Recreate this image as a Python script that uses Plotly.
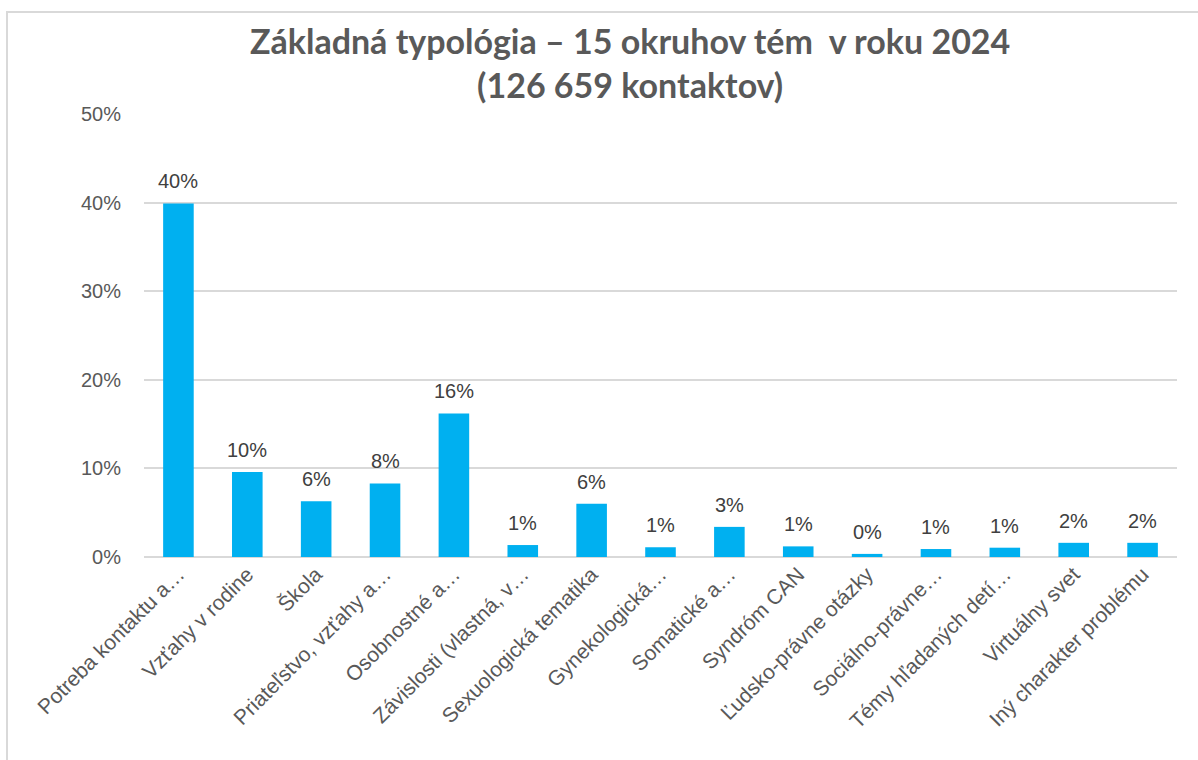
import plotly.graph_objects as go

categories = [
    "Potreba kontaktu a…",
    "Vzťahy v rodine",
    "Škola",
    "Priateľstvo, vzťahy a…",
    "Osobnostné a…",
    "Závislosti (vlastná, v…",
    "Sexuologická tematika",
    "Gynekologická…",
    "Somatické a…",
    "Syndróm CAN",
    "Ľudsko-právne otázky",
    "Sociálno-právne…",
    "Témy hľadaných detí…",
    "Virtuálny svet",
    "Iný charakter problému",
]
values = [39.9, 9.6, 6.3, 8.3, 16.2, 1.35, 6.0, 1.1, 3.4, 1.2, 0.35, 0.9, 1.05, 1.6, 1.6]
labels = ["40%", "10%", "6%", "8%", "16%", "1%", "6%", "1%", "3%", "1%", "0%", "1%", "1%", "2%", "2%"]
y_ticks = [0, 10, 20, 30, 40, 50]
y_tick_labels = ["0%", "10%", "20%", "30%", "40%", "50%"]

W, H = 1198, 760
L, R, T, B = 144, 21, 114, 203
pw, ph = W - L - R, H - T - B

fig = go.Figure(go.Bar(
    x=categories, y=values,
    marker=dict(color="#00B0F0", line=dict(width=0)),
    hoverinfo="x+y",
))

value_labels = [
    dict(x=c, y=v, text=t, xref="x", yref="y", showarrow=False,
         yanchor="bottom", yshift=9,
         font=dict(family="Liberation Sans, Arial", size=20, color="#404040"))
    for c, v, t in zip(categories, values, labels)
]

title_ann = dict(
    text="<b>Základná typológia – 15 okruhov tém  v roku 2024<br>(126 659 kontaktov)</b>",
    xref="paper", yref="paper",
    x=(630 - L) / pw, xanchor="center",
    y=1 + (T - 18) / ph, yanchor="top",
    showarrow=False, align="center",
    font=dict(family="Lato, Open Sans, sans-serif", size=34, color="#595959"),
)

fig.update_layout(
    width=W, height=H,
    margin=dict(l=L, r=R, t=T, b=B, autoexpand=False),
    paper_bgcolor="white", plot_bgcolor="white",
    bargap=0.556,
    showlegend=False,
    xaxis=dict(
        tickangle=-45, showgrid=False, showline=False, ticks="", automargin=False,
        tickfont=dict(family="Liberation Sans, Arial", size=21, color="#595959"),
    ),
    yaxis=dict(
        range=[0, 50], tickvals=y_ticks, ticktext=y_tick_labels, automargin=False,
        showgrid=True, gridcolor="#D9D9D9", gridwidth=1.5,
        zeroline=True, zerolinecolor="#D9D9D9", zerolinewidth=1.5,
        showline=False, ticks="", ticklabelstandoff=22,
        tickfont=dict(family="Liberation Sans, Arial", size=20, color="#595959"),
    ),
    annotations=value_labels + [title_ann],
    shapes=[dict(
        type="rect", xref="paper", yref="paper",
        x0=(7 - L) / pw, x1=(W + 20 - L) / pw,
        y0=-(B + 20) / ph, y1=1 + (T - 12) / ph,
        line=dict(color="#D9D9D9", width=2), fillcolor="rgba(0,0,0,0)", layer="below",
    )],
)

fig.write_html("out.html", config={"displayModeBar": False},
               post_script="document.body.style.margin='0';")
